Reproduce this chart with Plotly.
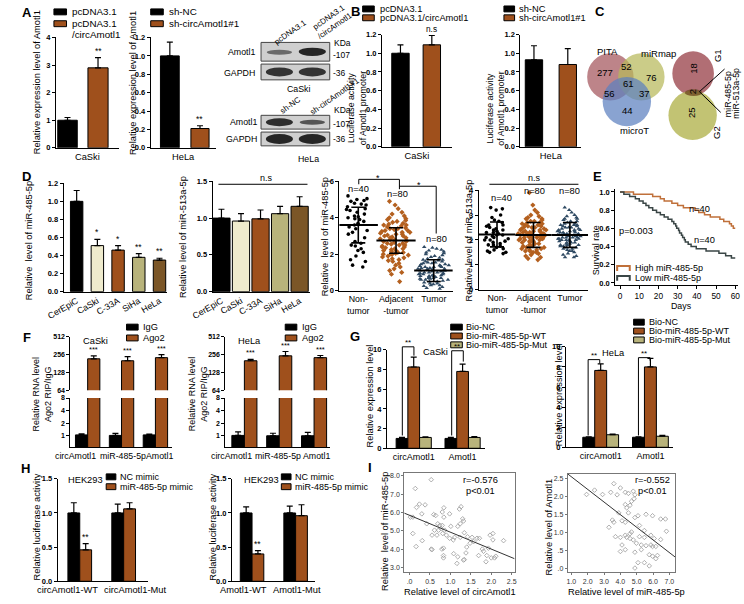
import numpy as np
import plotly.graph_objects as go

W, H = 744, 604
FONT = "Liberation Sans"

# ======================= DATA =======================
# Panel A
A_CASKI = ["CaSki"]
A_PCDNA = [1.0];   A_PCDNA_SD = [0.10]
A_CIRC = [2.90];   A_CIRC_SD = [0.37]
A_HELA = ["HeLa"]
A_SHNC = [1.0];    A_SHNC_SD = [0.15]
A_SHCIRC = [0.21]; A_SHCIRC_SD = [0.03]
A_SIG = ["**"]
BLOT_CASKI_LANES = ["pcDNA3.1", "pcDNA3.1<br>/circAmotl1"]
BLOT_HELA_LANES = ["sh-NC", "sh-circAmotl1#1"]
BLOT_ROWS = ["Amotl1", "GAPDH"]
BLOT_KDA = ["-107", "-36"]

# Panel B
B_CASKI = ["CaSki"]
B_PCDNA = [1.0];  B_PCDNA_SD = [0.09]
B_CIRC = [1.09];  B_CIRC_SD = [0.10]
B_HELA = ["HeLa"]
B_SHNC = [0.93];  B_SHNC_SD = [0.15]
B_SHCIRC = [0.88]; B_SHCIRC_SD = [0.17]

# Panel C
VENN1_SETS = ["PITA", "miRmap", "microT"]
VENN1_COUNTS = [277, 52, 76, 61, 56, 37, 44]
VENN2_SETS = ["G1", "G2"]
VENN2_COUNTS = [18, 2, 25]
VENN2_MIRS = ["miR-485-5p", "miR-513a-5p"]

# Panel D
CELL_LINES = ["CerEpiC", "CaSki", "C-33A", "SiHa", "HeLa"]
D_485 = [1.0, 0.51, 0.46, 0.38, 0.35]
D_485_SD = [0.12, 0.07, 0.05, 0.04, 0.02]
D_485_SIG = ["", "*", "*", "**", "**"]
D_513 = [1.0, 0.96, 0.99, 1.06, 1.16]
D_513_SD = [0.12, 0.10, 0.12, 0.10, 0.13]
TISSUE = ["Non-<br>tumor", "Adjacent<br>-tumor", "Tumor"]
TISSUE_N = ["n=40", "n=80", "n=80"]
D3_NT = [5.2, 5.05, 5.0, 4.95, 4.9, 4.8, 4.75, 4.7, 4.6, 4.5,
         4.45, 4.4, 4.3, 4.2, 4.1, 4.05, 4.0, 3.95, 3.9, 3.8,
         3.7, 3.6, 3.5, 3.4, 3.3, 3.2, 3.1, 2.9, 2.7, 2.6,
         2.5, 2.45, 2.3, 2.2, 2.1, 1.9, 1.7, 1.6, 1.4, 1.3]
D3_ADJ = [4.9, 4.7, 4.5, 4.3, 4.2, 4.1, 4.0, 3.95, 3.9, 3.85,
          3.8, 3.75, 3.7, 3.65, 3.6, 3.55, 3.5, 3.45, 3.4, 3.35,
          3.3, 3.3, 3.25, 3.2, 3.2, 3.15, 3.1, 3.1, 3.05, 3.0,
          3.0, 2.95, 2.9, 2.9, 2.85, 2.8, 2.8, 2.75, 2.7, 2.7,
          2.65, 2.6, 2.6, 2.55, 2.5, 2.5, 2.45, 2.4, 2.4, 2.35,
          2.3, 2.3, 2.25, 2.2, 2.2, 2.15, 2.1, 2.1, 2.05, 2.0,
          2.0, 1.95, 1.9, 1.85, 1.8, 1.75, 1.7, 1.65, 1.6, 1.5,
          1.4, 1.3, 1.2, 1.1, 1.0, 0.9, 3.6, 3.4, 2.0, 0.5]
D3_TUM = [2.4, 2.35, 2.3, 2.25, 2.2, 2.15, 2.1, 2.05, 2.0, 1.95,
          1.9, 1.85, 1.8, 1.75, 1.7, 1.7, 1.65, 1.6, 1.6, 1.55,
          1.5, 1.5, 1.45, 1.4, 1.4, 1.35, 1.3, 1.3, 1.25, 1.2,
          1.2, 1.15, 1.1, 1.1, 1.05, 1.0, 1.0, 0.95, 0.9, 0.9,
          0.85, 0.8, 0.8, 0.75, 0.7, 0.7, 0.65, 0.6, 0.6, 0.55,
          0.5, 0.5, 0.45, 0.4, 0.4, 0.35, 0.3, 0.3, 0.25, 0.2,
          1.25, 1.15, 1.05, 0.95, 0.85, 0.75, 1.35, 1.45, 1.55, 0.65,
          0.15, 0.1, 1.0, 1.1, 1.2, 0.8, 0.9, 1.3, 0.7, 0.6]
D3_MEAN = [3.6, 2.75, 1.1]
D3_SD = [0.98, 0.70, 0.60]
D4_NT = [3.3, 3.25, 3.2, 3.0, 2.9, 2.8, 2.75, 2.7, 2.6, 2.55,
         2.5, 2.45, 2.4, 2.35, 2.3, 2.3, 2.25, 2.2, 2.2, 2.15,
         2.1, 2.1, 2.05, 2.0, 2.0, 1.95, 1.9, 1.85, 1.8, 1.8,
         1.75, 1.7, 1.65, 1.6, 1.55, 1.5, 1.5, 1.45, 2.6, 2.4]
D4_ADJ = [3.9, 3.4, 3.2, 3.1, 3.0, 2.95, 2.9, 2.85, 2.8, 2.75,
          2.7, 2.7, 2.65, 2.6, 2.6, 2.55, 2.5, 2.5, 2.45, 2.4,
          2.4, 2.4, 2.35, 2.3, 2.3, 2.3, 2.25, 2.2, 2.2, 2.2,
          2.2, 2.15, 2.1, 2.1, 2.1, 2.05, 2.0, 2.0, 2.0, 1.95,
          1.9, 1.9, 1.85, 1.8, 1.8, 1.75, 1.7, 1.7, 1.65, 1.6,
          1.6, 1.55, 1.5, 1.5, 1.45, 1.4, 1.35, 1.3, 1.25, 1.2,
          2.25, 2.15, 2.35, 2.45, 2.05, 1.95, 2.55, 1.85, 2.65, 1.75,
          2.25, 2.15, 2.35, 2.05, 1.65, 2.75, 2.85, 1.55, 2.5, 2.0]
D4_TUM = [3.3, 3.2, 3.1, 3.0, 2.95, 2.9, 2.85, 2.8, 2.75, 2.7,
          2.65, 2.6, 2.6, 2.55, 2.5, 2.5, 2.45, 2.4, 2.4, 2.35,
          2.3, 2.3, 2.25, 2.2, 2.2, 2.2, 2.15, 2.1, 2.1, 2.05,
          2.0, 2.0, 1.95, 1.9, 1.9, 1.85, 1.8, 1.8, 1.75, 1.7,
          1.7, 1.65, 1.6, 1.55, 1.5, 1.45, 1.4, 1.35, 1.3, 1.3,
          2.25, 2.15, 2.35, 2.45, 2.05, 1.95, 2.55, 1.85, 2.65, 1.75,
          2.25, 2.15, 2.35, 2.05, 1.65, 2.75, 2.85, 1.55, 2.5, 2.0,
          2.3, 2.1, 2.4, 2.0, 2.2, 1.9, 2.6, 1.8, 2.2, 2.1]
D4_MEAN = [2.22, 2.2, 2.2]
D4_SD = [0.5, 0.5, 0.5]

# Panel E (Kaplan-Meier)
E_HIGH_T = [0, 7, 17, 21, 23, 27, 30, 33, 39, 41, 44, 47, 52, 54, 57, 58, 59, 60]
E_HIGH_S = [1.0, 0.975, 0.95, 0.925, 0.9, 0.875, 0.85, 0.825, 0.8, 0.775, 0.75,
            0.725, 0.7, 0.675, 0.65, 0.625, 0.6, 0.6]
E_LOW_T = [0, 2, 5, 8, 10, 12, 13.5, 15, 17, 19, 21, 23, 25, 27, 28, 29, 29.5,
           30.5, 31, 32, 32.6, 33.5, 34, 35.5, 37, 39.7, 44.8, 51.5, 55, 58, 60]
E_LOW_S = [1.0, 0.975, 0.95, 0.925, 0.9, 0.875, 0.85, 0.825, 0.8, 0.775, 0.75,
           0.725, 0.7, 0.675, 0.65, 0.625, 0.6, 0.575, 0.55, 0.525, 0.5, 0.475,
           0.45, 0.425, 0.4, 0.375, 0.35, 0.325, 0.3, 0.275, 0.275]
E_N = ["n=40", "n=40"]
E_P = "p=0.003"
E_LEGEND = ["High miR-485-5p", "Low miR-485-5p"]

# Panel F
F_GENES = ["circAmotl1", "miR-485-5p", "Amotl1"]
F_CASKI_IGG = [1.05, 1.02, 1.05]; F_CASKI_IGG_SD = [0.06, 0.12, 0.05]
F_CASKI_AGO = [218, 202, 228];    F_CASKI_AGO_SD = [27, 35, 28]
F_HELA_IGG = [1.02, 1.0, 1.0];    F_HELA_IGG_SD = [0.22, 0.15, 0.2]
F_HELA_AGO = [202, 245, 228];     F_HELA_AGO_SD = [11, 45, 20]
F_SIG = ["***", "***", "***"]

# Panel G
G_GENES = ["circAmotl1", "Amotl1"]
G_CASKI_NC = [1.0, 1.0];   G_CASKI_NC_SD = [0.12, 0.10]
G_CASKI_WT = [8.25, 7.8];  G_CASKI_WT_SD = [1.0, 0.75]
G_CASKI_MUT = [1.1, 1.1];  G_CASKI_MUT_SD = [0.07, 0.08]
G_HELA_NC = [1.0, 1.0];    G_HELA_NC_SD = [0.05, 0.05]
G_HELA_WT = [7.65, 8.0];   G_HELA_WT_SD = [0.65, 0.85]
G_HELA_MUT = [1.25, 1.1];  G_HELA_MUT_SD = [0.07, 0.10]
G_LEGEND = ["Bio-NC", "Bio-miR-485-5p-WT", "Bio-miR-485-5p-Mut"]

# Panel H
H1_CATS = ["circAmotl1-WT", "circAmotl1-Mut"]
H1_NC = [1.0, 1.0];     H1_NC_SD = [0.15, 0.13]
H1_MIM = [0.46, 1.06];  H1_MIM_SD = [0.09, 0.09]
H2_CATS = ["Amotl1-WT", "Amotl1-Mut"]
H2_NC = [1.0, 1.0];     H2_NC_SD = [0.09, 0.10]
H2_MIM = [0.40, 0.96];  H2_MIM_SD = [0.05, 0.16]
H_SIG = ["**", ""]

# Panel I
I1_X = [0.53, 0.14, 0.24, 0.38, 0.17, 0.08, 0.02, 0.30, 0.59, 0.64, 0.84, 0.80, 0.98, 0.84, 0.69,
        0.42, 0.74, 0.80, 1.01, 1.22, 1.26, 1.30, 1.32, 1.24, 1.18, 0.61, 0.71, 0.77, 0.86, 0.55,
        0.67, 0.81, 0.90, 0.98, 1.10, 1.07, 1.24, 1.34, 1.42, 1.53, 1.65, 1.71, 0.08, 0.31, 0.16,
        0.55, 0.53, 0.79, 0.83, 0.83, 0.83, 1.08, 1.16, 1.32, 1.38, 1.40, 1.48, 1.57, 1.78, 1.81,
        1.89, 1.93, 1.97, 2.04, 2.04, 2.00, 2.08, 2.11, 1.87, 2.30, 1.69, 1.18, 1.34]
I1_Y = [7.79, 7.31, 6.46, 6.42, 6.28, 5.75, 5.75, 5.93, 5.89, 5.84, 6.26, 6.03, 5.93, 5.75, 5.39,
        5.39, 5.30, 5.30, 5.25, 6.19, 6.32, 5.66, 5.54, 5.39, 5.25, 5.04, 5.04, 5.13, 5.04, 4.77,
        4.77, 4.86, 4.77, 4.60, 4.65, 4.51, 4.65, 4.90, 4.68, 4.65, 4.60, 4.60, 4.86, 4.47, 4.15,
        3.98, 4.01, 4.01, 4.06, 3.66, 3.53, 3.76, 3.23, 3.41, 3.80, 4.12, 4.33, 4.42, 4.01, 3.89,
        3.66, 4.06, 4.77, 4.86, 4.51, 3.53, 3.53, 3.62, 3.32, 4.47, 3.66, 3.59, 3.44]
I1_FIT = (5.85, -0.92)   # intercept, slope
I1_STATS = ["r=-0.576", "p<0.01"]
I2_X = [1.93, 2.42, 2.91, 3.41, 3.60, 4.00, 3.80, 4.49, 4.79, 4.89, 4.84, 4.30, 4.59, 4.39, 4.68,
        3.90, 4.49, 5.08, 5.57, 5.97, 6.47, 6.76, 4.89, 4.10, 3.51, 3.60, 3.30, 4.30, 5.17, 5.47,
        4.68, 4.59, 4.30, 5.17, 5.47, 5.87, 6.07, 6.47, 6.82, 3.70, 4.00, 4.39, 4.59, 4.79, 4.10,
        4.98, 5.28, 5.57, 5.87, 6.17, 4.00, 4.30, 4.89, 5.28, 5.77, 5.97, 6.17, 6.27, 5.08, 5.47,
        5.77, 4.89, 5.97, 4.30]
I2_Y = [2.05, 2.17, 2.05, 2.11, 2.35, 2.23, 2.04, 2.08, 2.14, 2.04, 1.93, 1.77, 1.75, 1.68, 1.86,
        1.54, 1.54, 1.46, 1.50, 1.46, 1.37, 1.37, 1.41, 1.32, 1.34, 1.28, 1.14, 1.28, 1.19, 1.05,
        1.01, 0.96, 0.92, 0.88, 0.86, 0.92, 0.83, 0.80, 1.03, 0.88, 0.86, 0.86, 0.83, 0.79, 0.65,
        0.70, 0.65, 0.63, 0.65, 0.61, 0.47, 0.52, 0.45, 0.52, 0.38, 0.34, 0.27, 0.36, 0.16, 0.16,
        0.07, 0.01, 0.61, 2.11]
I2_FIT = (2.89, -0.35)
I2_STATS = ["r=-0.552", "p<0.01"]

# ======================= STYLE =======================
BLK = "#000000"
ORG = "#9f501c"
KHA = "#b8b37b"
CRM = "#efebcd"
DBR = "#7b5627"
ADJ_C = "#b4601f"
TUM_C = "#2f4a63"
HIGH_C = "#c0703a"
LOW_C = "#3a4646"
FS = 9.3       # main text size
LET = 13       # panel letter size


def PX(x):
    return x / W


def PY(y):
    return 1 - y / H


def sfx(i):
    return "" if i == 1 else str(i)


fig = go.Figure()
layout = {}
anns = []
shapes = []

AX = dict(showgrid=False, zeroline=False, showline=True, linecolor="black", linewidth=1,
          ticks="outside", ticklen=3, tickwidth=1, tickcolor="black")
TFB = dict(family=FONT, size=7.5, color="black", weight="bold")
TFB_S = dict(family=FONT, size=7, color="black", weight="bold")


def make_axes(i, xpx, ypx, xkw, ykw):
    layout["xaxis" + sfx(i)] = dict(AX, domain=[PX(xpx[0]), PX(xpx[1])], anchor="y" + sfx(i), **xkw)
    layout["yaxis" + sfx(i)] = dict(AX, domain=[PY(ypx[1]), PY(ypx[0])], anchor="x" + sfx(i), **ykw)


def cat_x(rng, angle=0, size=FS, labels=True):
    return dict(type="category", range=rng, ticks="", tickfont=dict(family=FONT, size=size),
                tickangle=angle, showticklabels=labels)


def lin_y(rng, dtick, fmt=None):
    d = dict(range=rng, dtick=dtick, tick0=0, tickfont=TFB)
    if fmt:
        d["tickformat"] = fmt
    return d


def bar(i, cats, vals, sds, color, off=None, w=None, yi=None, err=True):
    kw = {}
    if off is not None:
        kw["offset"] = off
    if w is not None:
        kw["width"] = w
    fig.add_trace(go.Bar(
        x=cats, y=vals, marker=dict(color=color, line=dict(color="black", width=1)),
        error_y=dict(type="data", symmetric=False, array=sds, arrayminus=[0] * len(sds),
                     color="black", thickness=1.2, width=3, visible=err),
        xaxis="x" + sfx(i), yaxis="y" + sfx(yi if yi else i), hoverinfo="skip", **kw))


def stars(i, vals, sds, marks, off=0.0, w=0.0, yi=None, log=False, size=8.5, shift=0):
    for k, (v, e, m) in enumerate(zip(vals, sds, marks)):
        if not m:
            continue
        y = v + e
        if log:
            y = np.log10(y)
        anns.append(dict(x=k + off + w / 2, y=y, xref="x" + sfx(i), yref="y" + sfx(yi if yi else i),
                         text=m, showarrow=False, yanchor="bottom", yshift=shift,
                         font=dict(family=FONT, size=size, color="black")))


def T(text, x, y, size=FS, bold=False, angle=0, xa="center", ya="middle", color="black"):
    anns.append(dict(text=text, x=PX(x), y=PY(y), xref="paper", yref="paper", showarrow=False,
                     font=dict(family=FONT, size=size, color=color, weight="bold" if bold else "normal"),
                     textangle=angle, xanchor=xa, yanchor=ya))


def SQ(x0, y0, x1, y1, color, lc="black", lw=1):
    shapes.append(dict(type="rect", xref="paper", yref="paper", x0=PX(x0), x1=PX(x1),
                       y0=PY(y1), y1=PY(y0), fillcolor=color, line=dict(color=lc, width=lw)))


def EL(cx, cy, rx, ry, color, op=1.0, lw=0, lc=None):
    shapes.append(dict(type="circle", xref="paper", yref="paper", x0=PX(cx - rx), x1=PX(cx + rx),
                       y0=PY(cy + ry), y1=PY(cy - ry), fillcolor=color, opacity=op,
                       line=dict(width=lw, color=lc or color)))


def LN(pts, color="black", w=1):
    path = "M " + " L ".join(f"{PX(x):.5f},{PY(y):.5f}" for x, y in pts)
    shapes.append(dict(type="path", xref="paper", yref="paper", path=path,
                       line=dict(color=color, width=w)))


# ======================= PANEL A =======================
make_axes(1, (35, 100), (34, 146), cat_x([-0.5, 0.5]), lin_y([0, 4], 1))
bar(1, A_CASKI, A_PCDNA, A_PCDNA_SD, BLK, -0.47, 0.31)
bar(1, A_CASKI, A_CIRC, A_CIRC_SD, ORG, 0.01, 0.32)
stars(1, A_CIRC, A_CIRC_SD, A_SIG, 0.01, 0.32)

make_axes(2, (133, 200), (34, 146), cat_x([-0.5, 0.5]), lin_y([0, 1.2], 0.2, ".1f"))
bar(2, A_HELA, A_SHNC, A_SHNC_SD, BLK, -0.35, 0.29)
bar(2, A_HELA, A_SHCIRC, A_SHCIRC_SD, ORG, 0.12, 0.28)
stars(2, A_SHCIRC, A_SHCIRC_SD, A_SIG, 0.12, 0.28)

T("A", 5, 9, LET, True)
T("Relative expression level of Amotl1", 15, 80, FS, angle=-90)
T("Relative expression level of Amotl1", 115, 80, FS, angle=-90)
SQ(33, 5, 46, 11, BLK); T("pcDNA3.1", 50, 8, 9.8, xa="left")
SQ(33, 17, 46, 23, ORG); T("pcDNA3.1", 50, 20, 9.8, xa="left"); T("/circAmotl1", 50, 31, 9.8, xa="left")
SQ(133, 5, 146, 11, BLK); T("sh-NC", 150, 8, 9.8, xa="left")
SQ(133, 17, 146, 23, ORG); T("sh-circAmotl1#1", 150, 20, 9.8, xa="left")

# western blots (illustration)
for (a, b) in [(39, 58), (61, 77), (113, 127), (130, 144)]:
    SQ(247, a, 318, b, "#cfcfcf", lc="#444", lw=1)
EL(266, 49, 13, 2.6, "#6a6a6a"); EL(300, 48.5, 14, 4.2, "#252525")
EL(266, 69, 14, 4.5, "#333333"); EL(300, 69, 14, 4.5, "#333333")
EL(266, 120, 14, 4.0, "#2e2e2e"); EL(300, 120, 13, 2.6, "#555555")
EL(266, 137, 14, 5.0, "#262626"); EL(300, 137, 14, 5.0, "#262626")
T(BLOT_ROWS[0], 243, 49, 8.8, xa="right"); T(BLOT_ROWS[1], 243, 70, 8.8, xa="right")
T(BLOT_ROWS[0], 245, 120, 8.8, xa="right"); T(BLOT_ROWS[1], 245, 137, 8.8, xa="right")
T("KDa", 320, 40, 8.5, xa="left"); T(BLOT_KDA[0], 319, 52, 8.5, xa="left"); T(BLOT_KDA[1], 319, 70, 8.5, xa="left")
T("KDa", 320, 108, 8.5, xa="left"); T(BLOT_KDA[0], 319, 122, 8.5, xa="left"); T(BLOT_KDA[1], 319, 137, 8.5, xa="left")
T("CaSki", 286, 86, 8.8); T("HeLa", 296, 157, 8.8)
T(BLOT_CASKI_LANES[0], 277, 29, 8, angle=-35)
T(BLOT_CASKI_LANES[1], 320, 18, 8, angle=-35)
T(BLOT_HELA_LANES[0], 277, 103, 8, angle=-35)
T(BLOT_HELA_LANES[1], 323, 94, 8, angle=-35)

# ======================= PANEL B =======================
make_axes(3, (372, 444), (31, 145), cat_x([-0.5, 0.5]), lin_y([0, 1.2], 0.2, ".1f"))
bar(3, B_CASKI, B_PCDNA, B_PCDNA_SD, BLK, -0.36, 0.25)
bar(3, B_CASKI, B_CIRC, B_CIRC_SD, ORG, 0.09, 0.25)
stars(3, B_CIRC, B_CIRC_SD, ["n.s"], 0.09, 0.25, size=8.3, shift=-1)

make_axes(4, (515, 578), (31, 145), cat_x([-0.5, 0.5]), lin_y([0, 1.2], 0.2, ".1f"))
bar(4, B_HELA, B_SHNC, B_SHNC_SD, BLK, -0.42, 0.285)
bar(4, B_HELA, B_SHCIRC, B_SHCIRC_SD, ORG, 0.135, 0.285)

T("B", 345, 8, LET, True)
T("Luciferase activity<br>of Amotl1 promoter", 346, 106, 8.8, angle=-90)
T("Luciferase activity<br>of Amotl1 promoter", 489, 106, 8.8, angle=-90)
SQ(352, 2, 364, 8, BLK); T("pcDNA3.1", 368, 5, 9.3, xa="left")
SQ(352, 11, 364, 17, ORG); T("pcDNA3.1/circAmotl1", 368, 14, 9.3, xa="left")
SQ(498, 2, 509, 8, BLK); T("sh-NC", 512, 5, 9.3, xa="left")
SQ(498, 11, 509, 17, ORG); T("sh-circAmotl1#1", 512, 14, 9.3, xa="left")

# ======================= PANEL C =======================
T("C", 597, 8, LET, True)
EL(608, 74, 24, 24, "#a3555c", 0.72)
EL(640, 74, 24, 24, "#b7b85a", 0.72)
EL(625, 99, 25, 25, "#5b7fbf", 0.72)
venn1_pos = [(602, 70), (625, 63), (650, 75), (627, 81), (607, 91), (643, 91), (626, 108)]
for c, (x, y) in zip(VENN1_COUNTS, venn1_pos):
    T(str(c), x, y, 9.5)
T(VENN1_SETS[0], 605, 48, 9.5); T(VENN1_SETS[1], 658, 50, 9.5); T(VENN1_SETS[2], 633, 128, 9.5)

EL(693.5, 70.5, 21.5, 22.5, "#a3555c", 0.85)
EL(693, 113, 25, 25, "#b7b85a", 0.85)
EL(694, 90, 9, 3.5, "#6e4a22", 0.75)
venn2_pos = [(693, 65), (693, 89), (692, 110)]
for c, (x, y) in zip(VENN2_COUNTS, venn2_pos):
    T(str(c), x, y, 9.5, angle=-90)
T(VENN2_SETS[0], 718, 52, 9.5, angle=-90); T(VENN2_SETS[1], 717, 130, 9.5, angle=-90)
LN([(700, 89), (726, 66)]); LN([(700, 89), (722, 110)])
T(VENN2_MIRS[0], 729, 91, 8.8, angle=-90)
T(VENN2_MIRS[1], 737, 91, 8.8, angle=-90)

# ======================= PANEL D =======================
D_COLORS = [BLK, CRM, ORG, KHA, DBR]
make_axes(5, (43, 150), (182, 292), cat_x([-0.63, 4.37], -30, 8.8), lin_y([0, 1.2], 0.2, ".1f"))
fig.add_trace(go.Bar(x=CELL_LINES, y=D_485, width=0.6,
                     marker=dict(color=D_COLORS, line=dict(color="black", width=1)),
                     error_y=dict(type="data", symmetric=False, array=D_485_SD, arrayminus=[0] * 5,
                                  color="black", thickness=1.2, width=3),
                     xaxis="x5", yaxis="y5", hoverinfo="skip"))
stars(5, D_485, D_485_SD, D_485_SIG, 0, 0)

make_axes(6, (197, 298), (180, 292), cat_x([-0.45, 4.55], -30, 8.8), lin_y([0, 1.5], 0.5, ".1f"))
fig.add_trace(go.Bar(x=CELL_LINES, y=D_513, width=0.88,
                     marker=dict(color=D_COLORS, line=dict(color="black", width=1)),
                     error_y=dict(type="data", symmetric=False, array=D_513_SD, arrayminus=[0] * 5,
                                  color="black", thickness=1.2, width=3),
                     xaxis="x6", yaxis="y6", hoverinfo="skip"))
LN([(203, 183), (295, 183)])
T("n.s", 253, 177, 9)

T("D", 5, 175, LET, True)
T("Relative  level of miR-485-5p", 8, 240, FS, angle=-90)
T("Relative level of miR-513a-5p", 167, 237, FS, angle=-90)


def dots(i, cat, vals, color, symbol, size, width):
    fig.add_trace(go.Box(x=[cat] * len(vals), y=vals, boxpoints="all", jitter=1.0, pointpos=0,
                         width=width, fillcolor="rgba(0,0,0,0)",
                         line=dict(color="rgba(0,0,0,0)", width=0),
                         marker=dict(color=color, symbol=symbol, size=size),
                         xaxis="x" + sfx(i), yaxis="y" + sfx(i), hoverinfo="skip"))


def meansd(i, means, sds, msize, capw):
    fig.add_trace(go.Scatter(x=TISSUE, y=means, mode="markers",
                             marker=dict(symbol="line-ew", size=msize, color="black",
                                         line=dict(color="black", width=2)),
                             error_y=dict(type="data", array=sds, color="black", thickness=1.6, width=capw),
                             xaxis="x" + sfx(i), yaxis="y" + sfx(i), hoverinfo="skip"))


make_axes(7, (328, 445), (180, 291), cat_x([-0.5, 2.5], 0, 8.8), lin_y([0, 6], 2))
dots(7, TISSUE[0], D3_NT, BLK, "circle", 3.6, 0.72)
dots(7, TISSUE[1], D3_ADJ, ADJ_C, "diamond", 4, 0.85)
dots(7, TISSUE[2], D3_TUM, TUM_C, "triangle-up", 4, 0.85)
meansd(7, D3_MEAN, D3_SD, 28, 7)
LN([(348, 183), (348, 178), (390, 178), (390, 188)])
LN([(390, 185), (428, 185), (428, 233)])
T("*", 368, 177, 9); T("*", 410, 184, 9)
T(TISSUE_N[0], 348, 188, FS); T(TISSUE_N[1], 388, 193, FS); T(TISSUE_N[2], 428, 239, FS)
T("Relative  level of miR-485-5p", 314, 236, FS, angle=-90)

make_axes(8, (472, 585), (189, 290), cat_x([-0.5, 2.5], 0, 8.8), lin_y([0, 4], 1))
dots(8, TISSUE[0], D4_NT, BLK, "circle", 3.6, 0.75)
dots(8, TISSUE[1], D4_ADJ, ADJ_C, "diamond", 4, 0.85)
dots(8, TISSUE[2], D4_TUM, TUM_C, "triangle-up", 4, 0.85)
meansd(8, D4_MEAN, D4_SD, 26, 7)
LN([(483, 183), (575, 183)])
T("n.s", 530, 177, 9)
T(TISSUE_N[0], 495, 197, FS); T(TISSUE_N[1], 530, 190, FS); T(TISSUE_N[2], 566, 190, FS)
T("Relative level of miR-513a-5p", 462, 240, FS, angle=-90)

# ======================= PANEL E =======================
make_axes(9, (613, 740), (188, 285),
          dict(range=[-2.5, 61.5], tickvals=[0, 10, 20, 30, 40, 50, 60], tickfont=dict(family=FONT, size=8.3)),
          lin_y([-0.02, 1.03], 0.2, ".1f"))
fig.add_trace(go.Scatter(x=E_HIGH_T, y=E_HIGH_S, mode="lines", line=dict(shape="hv", color=HIGH_C, width=1.5),
                         xaxis="x9", yaxis="y9", hoverinfo="skip"))
fig.add_trace(go.Scatter(x=E_LOW_T, y=E_LOW_S, mode="lines", line=dict(shape="hv", color=LOW_C, width=1.5),
                         xaxis="x9", yaxis="y9", hoverinfo="skip"))
T("E", 595, 175, LET, True)
T("Survival rate", 593, 250, 9, angle=-90)
T("Days", 681, 307, 8.8)
T(E_N[0], 700, 208, FS); T(E_N[1], 705, 240, FS)
T(E_P, 615, 230, FS, xa="left")
LN([(615, 271), (615, 266), (628, 266), (628, 271)], HIGH_C, 2)
LN([(615, 281), (615, 276), (628, 276), (628, 281)], LOW_C, 2)
T(E_LEGEND[0], 631, 268, 9, xa="left")
T(E_LEGEND[1], 631, 278, 9, xa="left")

# ======================= PANEL F =======================
LOW_RNG = [np.log10(0.53), np.log10(8)]
UP_RNG = [np.log10(64), np.log10(512)]


def f_panel(ix, iyu, xpx, xr, igg, igg_sd, ago, ago_sd, label_x):
    make_axes(ix, xpx, (400, 450), cat_x(xr, labels=False),
              dict(type="log", range=LOW_RNG, tickvals=[1, 2, 4, 8], ticktext=["1", "2", "4", "8"], tickfont=TFB_S))
    layout["yaxis" + sfx(iyu)] = dict(AX, domain=[PY(392), PY(338)], anchor="x" + sfx(ix), type="log",
                                      range=UP_RNG, tickvals=[64, 128, 256, 512],
                                      ticktext=["64", "128", "256", "512"], tickfont=TFB_S)
    bar(ix, F_GENES, igg, igg_sd, BLK, -0.36, 0.36)
    bar(ix, F_GENES, ago, ago_sd, ORG, 0.0, 0.36, err=False)
    bar(ix, F_GENES, ago, ago_sd, ORG, 0.0, 0.36, yi=iyu)
    stars(ix, ago, ago_sd, F_SIG, 0.0, 0.36, yi=iyu, log=True, size=7.5)
    for g, lx in zip(F_GENES, label_x):
        T(g, lx, 459, 8.8)


f_panel(10, 11, (50, 155), [-0.51, 2.49], F_CASKI_IGG, F_CASKI_IGG_SD, F_CASKI_AGO, F_CASKI_AGO_SD,
        [55, 104, 142])
f_panel(12, 13, (210, 318), [-0.55, 2.45], F_HELA_IGG, F_HELA_IGG_SD, F_HELA_AGO, F_HELA_AGO_SD,
        [216, 265, 304])
T("F", 5, 339, LET, True)
T("Relative RNA level<br>Ago2 RIP/IgG", 21, 396, 9, angle=-90)
T("Relative RNA level<br>Ago2 RIP/IgG", 182, 396, 9, angle=-90)
T("CaSki", 76, 342, FS); T("HeLa", 235, 342, FS)
SQ(108, 325, 120, 331, BLK); T("IgG", 123, 328, FS, xa="left")
SQ(108, 336, 120, 342, ORG); T("Ago2", 123, 339, FS, xa="left")
SQ(272, 325, 284, 331, BLK); T("IgG", 287, 328, FS, xa="left")
SQ(272, 336, 284, 342, ORG); T("Ago2", 287, 339, FS, xa="left")

# ======================= PANEL G =======================
G_OFF = [-0.36, -0.12, 0.12]
GW = 0.24


def g_panel(i, xpx, ypx, xr, nc, nc_sd, wt, wt_sd, mut, mut_sd):
    make_axes(i, xpx, ypx, cat_x(xr, 0, 9), lin_y([0, 10], 2))
    bar(i, G_GENES, nc, nc_sd, BLK, G_OFF[0], GW)
    bar(i, G_GENES, wt, wt_sd, ORG, G_OFF[1], GW)
    bar(i, G_GENES, mut, mut_sd, KHA, G_OFF[2], GW)


g_panel(14, (377, 478), (351, 451), [-0.55, 1.45], G_CASKI_NC, G_CASKI_NC_SD, G_CASKI_WT, G_CASKI_WT_SD,
        G_CASKI_MUT, G_CASKI_MUT_SD)
g_panel(15, (562, 673), (348, 450), [-0.7, 1.46], G_HELA_NC, G_HELA_NC_SD, G_HELA_WT, G_HELA_WT_SD,
        G_HELA_MUT, G_HELA_MUT_SD)
T("G", 344, 338, LET, True)
T("Relative expression level", 360, 398, FS, angle=-90)
T("Relative expression level", 555, 397, FS, angle=-90)
LN([(393, 438), (393, 348), (405, 348), (405, 357)]); T("**", 399, 344, 8)
LN([(444, 438), (444, 352), (456, 352), (456, 363)]); T("**", 450, 348, 8)
LN([(585, 438), (585, 361), (597, 361), (597, 365)]); T("**", 591, 357, 8)
LN([(637, 438), (637, 359), (649, 359), (649, 362)]); T("**", 643, 355, 8)
T("CaSki", 427, 353, FS); T("HeLa", 611, 354, FS)
for k, (c, t) in enumerate(zip([BLK, ORG, KHA], G_LEGEND)):
    SQ(443, 325 + 9 * k, 455, 331 + 9 * k, c); T(t, 457, 328 + 9 * k, 9, xa="left")
    SQ(632, 320 + 9 * k, 643, 326 + 9 * k, c); T(t, 646, 323 + 9 * k, 9, xa="left")

# ======================= PANEL H =======================
make_axes(16, (37, 130), (482, 586), cat_x([-0.5, 1.55], labels=False), lin_y([0, 1.5], 0.5, ".1f"))
bar(16, H1_CATS, H1_NC, H1_NC_SD, BLK, -0.27, 0.27)
bar(16, H1_CATS, H1_MIM, H1_MIM_SD, ORG, 0.0, 0.27)
stars(16, H1_MIM, H1_MIM_SD, H_SIG, 0.0, 0.27)
make_axes(17, (217, 303), (482, 586), cat_x([-0.46, 1.45], labels=False), lin_y([0, 1.5], 0.5, ".1f"))
bar(17, H2_CATS, H2_NC, H2_NC_SD, BLK, -0.27, 0.27)
bar(17, H2_CATS, H2_MIM, H2_MIM_SD, ORG, 0.0, 0.27)
stars(17, H2_MIM, H2_MIM_SD, H_SIG, 0.0, 0.27)
for c, lx in zip(H1_CATS, [47, 117]):
    T(c, lx, 595, FS)
for c, lx in zip(H2_CATS, [229, 284]):
    T(c, lx, 595, FS)
T("H", 4, 472, LET, True)
T("Relative luciferase activity", 16, 531, FS, angle=-90)
T("Relative luciferase activity", 197, 531, FS, angle=-90)
for x0 in (0, 181):
    T("HEK293", 66 + x0, 483, FS)
    SQ(87 + x0, 477, 97 + x0, 483, BLK); T("NC mimic", 99 + x0, 480, 9, xa="left")
    SQ(87 + x0, 487, 97 + x0, 493, ORG); T("miR-485-5p mimic", 99 + x0, 490, 9, xa="left")

# ======================= PANEL I =======================
IAX = dict(mirror=True, linecolor="#777", ticks="outside", ticklen=2, tickcolor="#777",
           tickfont=dict(family=FONT, size=7, color="#333"))
I1_XR = [-0.13, 2.57]; I1_YR = [2.74, 8.16]
I2_XR = [0.78, 7.36]; I2_YR = [-0.11, 2.62]
make_axes(18, (395, 509), (476, 577),
          dict(IAX, range=I1_XR, tickvals=[0, 0.5, 1, 1.5, 2, 2.5], ticktext=[".0", "0.5", "1.0", "1.5", "2.0", "2.5"]),
          dict(IAX, range=I1_YR, tickvals=[3, 4, 5, 6, 7, 8], ticktext=["3.0", "4.0", "5.0", "6.0", "7.0", "8.0"]))
make_axes(19, (564, 675), (477, 577),
          dict(IAX, range=I2_XR, tickvals=[1, 2, 3, 4, 5, 6, 7], ticktext=["1.0", "2.0", "3.0", "4.0", "5.0", "6.0", "7.0"]),
          dict(IAX, range=I2_YR, tickvals=[0, 0.5, 1, 1.5, 2, 2.5], ticktext=[".0", ".5", "1.0", "1.5", "2.0", "2.5"]))
for i, xs, ys, fit, xr in [(18, I1_X, I1_Y, I1_FIT, I1_XR), (19, I2_X, I2_Y, I2_FIT, I2_XR)]:
    fig.add_trace(go.Scatter(x=xs, y=ys, mode="markers",
                             marker=dict(symbol="diamond-open", size=3.5, color="#9a9a9a", line=dict(width=0.8)),
                             xaxis="x" + sfx(i), yaxis="y" + sfx(i), hoverinfo="skip"))
    lx = np.array(xr)
    fig.add_trace(go.Scatter(x=lx, y=fit[0] + fit[1] * lx, mode="lines", line=dict(color="#333", width=1),
                             xaxis="x" + sfx(i), yaxis="y" + sfx(i), hoverinfo="skip"))
T("I", 360, 471, LET, True)
T(I1_STATS[0], 474, 483, FS); T(I1_STATS[1], 474, 494, FS)
T(I2_STATS[0], 652, 483, FS); T(I2_STATS[1], 652, 494, FS)
T("Relative  level of miR-485-5p", 375, 535, FS, angle=-90)
T("Relative level of Amotl1", 545, 531, FS, angle=-90)
T("Relative level of circAmotl1", 453, 597, FS)
T("Relative level of miR-485-5p", 625, 597, FS)

# ======================= LAYOUT =======================
fig.update_layout(width=W, height=H, margin=dict(l=0, r=0, t=0, b=0),
                  paper_bgcolor="white", plot_bgcolor="white", showlegend=False,
                  font=dict(family=FONT, size=FS, color="black"), barmode="overlay",
                  annotations=anns, shapes=shapes, **layout)
fig.write_html("out.html", config={"displayModeBar": False, "staticPlot": True},
               post_script="document.body.style.margin='0px';document.body.style.overflow='hidden';")
